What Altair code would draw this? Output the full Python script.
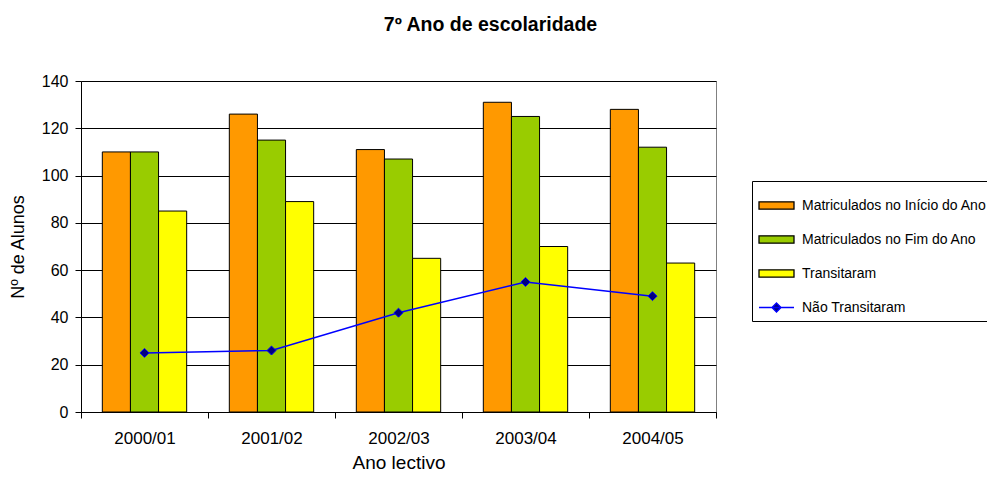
import altair as alt
import pandas as pd

anos = ["2000/01", "2001/02", "2002/03", "2003/04", "2004/05"]
series = [
    "Matriculados no Início do Ano",
    "Matriculados no Fim do Ano",
    "Transitaram",
    "Não Transitaram",
]
matric_inicio = [110, 126, 111, 131, 128]
matric_fim = [110, 115, 107, 125, 112]
transitaram = [85, 89, 65, 70, 63]
nao_transitaram = [25, 26, 42, 55, 49]
y_ticks = [0, 20, 40, 60, 80, 100, 120, 140]

fill_colors = ["#FF9900", "#99CC00", "#FFFF00", "#000080"]
stroke_colors = ["#000000", "#000000", "#000000", "#0000FF"]
legend_shapes = ["M-1,-0.21H1V0.21H-1Z"] * 3 + ["M-1,0H1M0,-0.26L0.26,0L0,0.26L-0.26,0Z"]

rows = []
for nome, vals in zip(series, [matric_inicio, matric_fim, transitaram, nao_transitaram]):
    for a, v in zip(anos, vals):
        rows.append({"Ano": a, "Serie": nome, "Valor": v})
df = pd.DataFrame(rows)

FONT = "Liberation Sans"

leg = alt.Legend(
    title=None, orient="none", legendX=671, legendY=100,
    strokeColor="#000000", fillColor="#FFFFFF", padding=6,
    labelFont=FONT, labelFontSize=14, labelColor="#000000", labelOffset=7,
    symbolSize=1225, symbolStrokeWidth=1.3, rowPadding=8, labelLimit=400,
)
fill_enc = alt.Fill("Serie:N", scale=alt.Scale(domain=series, range=fill_colors), legend=leg)
stroke_enc = alt.Stroke("Serie:N", scale=alt.Scale(domain=series, range=stroke_colors), legend=leg)
shape_enc = alt.Shape("Serie:N", scale=alt.Scale(domain=series, range=legend_shapes), legend=leg)

x_enc = alt.X(
    "Ano:N", sort=anos,
    scale=alt.Scale(domain=anos, paddingInner=0, paddingOuter=0),
    axis=alt.Axis(
        title="Ano lectivo", tickBand="extent", labelAngle=0, tickSize=6,
        labelPadding=12, labelFontSize=17, titleFontSize=19,
        titleFontWeight="normal", titleY=56, titleBaseline="alphabetic",
    ),
)
y_enc = alt.Y(
    "Valor:Q",
    scale=alt.Scale(domain=[0, 140], nice=False),
    axis=alt.Axis(
        title="Nº de Alunos", values=y_ticks, tickSize=6, labelPadding=7,
        labelFontSize=16, titleFontSize=18, titleFontWeight="normal",
        titleX=-63, titleY=165.5, titleAngle=270, titleBaseline="middle",
        grid=True, gridColor="#000000", gridWidth=1,
    ),
)

bars = alt.Chart(df).transform_filter(
    alt.FieldOneOfPredicate(field="Serie", oneOf=series[:3])
).mark_bar(strokeWidth=1, opacity=1).encode(
    x=x_enc,
    xOffset=alt.XOffset(
        "Serie:N", sort=series[:3],
        scale=alt.Scale(domain=series[:3], paddingInner=0, paddingOuter=0.758),
    ),
    y=y_enc,
    fill=fill_enc,
    stroke=stroke_enc,
)

line = alt.Chart(df).transform_filter(
    alt.datum.Serie == series[3]
).mark_line(strokeWidth=1.5).encode(x=x_enc, y=y_enc, stroke=stroke_enc)

pts = alt.Chart(df).transform_filter(
    alt.datum.Serie == series[3]
).mark_point(
    shape="diamond", filled=True, size=80, fill="#000080",
    stroke="#0000FF", strokeWidth=1, opacity=1,
).encode(x=x_enc, y=y_enc)

helper = alt.Chart(df).transform_filter("false").mark_point(
    filled=True, opacity=1
).encode(x=x_enc, y=y_enc, shape=shape_enc, fill=fill_enc, stroke=stroke_enc)

chart = alt.layer(bars, line, pts, helper).properties(
    width=635, height=331,
    autosize=alt.AutoSizeParams(type="none"),
    padding={"left": 73, "top": 73, "right": 271, "bottom": 59},
    title=alt.TitleParams(
        "7º Ano de escolaridade", anchor="middle", dx=92, offset=38,
        font=FONT, fontSize=19.5, fontWeight="bold", color="#000000",
    ),
).configure_view(
    stroke="#808080", strokeWidth=1
).configure_axis(
    domainColor="#000000", tickColor="#000000", labelFont=FONT,
    titleFont=FONT, labelColor="#000000", titleColor="#000000", grid=False,
)

chart.save("out.html", embed_options={"renderer": "svg", "actions": False})
